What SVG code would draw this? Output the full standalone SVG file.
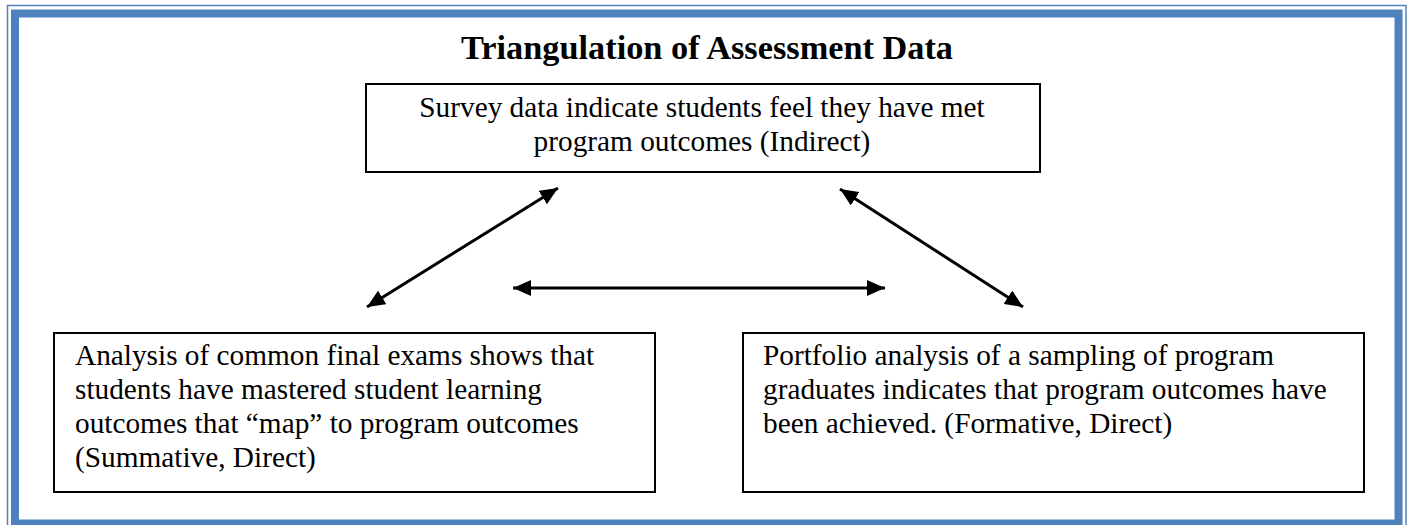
<svg xmlns="http://www.w3.org/2000/svg" width="1410" height="525" viewBox="0 0 1410 525">
  <defs>
    <style>
      .frame { fill: none; stroke: #4F81BD; }
      .box { fill: #ffffff; stroke: #000000; stroke-width: 2; }
      .txt { font-family: "Liberation Serif", "Times New Roman", serif; font-size: 29.3px; fill: #000000; }
      .title { font-family: "Liberation Serif", "Times New Roman", serif; font-size: 33px; font-weight: bold; fill: #000000; }
      .conn { fill: none; stroke: #000000; stroke-width: 3; }
    </style>
    <marker id="arrow" viewBox="0 0 18 16" refX="18" refY="8" markerWidth="18" markerHeight="16" markerUnits="userSpaceOnUse" orient="auto-start-reverse">
      <path d="M0,0 L18,8 L0,16 Z" fill="#000000"/>
    </marker>
  </defs>

  <rect width="1410" height="525" fill="#ffffff"/>

  <g id="frame">
    <rect class="frame" x="7.5" y="5.5" width="1398.5" height="530" stroke-width="1.5"/>
    <rect class="frame" x="15" y="13.5" width="1383.5" height="510" stroke-width="8"/>
  </g>

  <g id="title">
    <text class="title" x="707" y="59" text-anchor="middle" textLength="492" lengthAdjust="spacingAndGlyphs">Triangulation of Assessment Data</text>
  </g>

  <g id="connectors">
    <path class="conn" d="M367,307 L558,188" marker-start="url(#arrow)" marker-end="url(#arrow)"/>
    <path class="conn" d="M513,288 L885,288" marker-start="url(#arrow)" marker-end="url(#arrow)"/>
    <path class="conn" d="M840,189 L1023,307" marker-start="url(#arrow)" marker-end="url(#arrow)"/>
  </g>

  <g id="node-survey">
    <rect class="box" x="366" y="84" width="674" height="88"/>
    <text class="txt" x="702" y="117" text-anchor="middle">Survey data indicate students feel they have met</text>
    <text class="txt" x="702" y="151" text-anchor="middle">program outcomes (Indirect)</text>
  </g>

  <g id="node-exams">
    <rect class="box" x="54" y="333" width="601" height="159"/>
    <text class="txt" x="75" y="365">Analysis of common final exams shows that</text>
    <text class="txt" x="75" y="399">students have mastered student learning</text>
    <text class="txt" x="75" y="433">outcomes that “map” to program outcomes</text>
    <text class="txt" x="75" y="467">(Summative, Direct)</text>
  </g>

  <g id="node-portfolio">
    <rect class="box" x="743" y="333" width="621" height="159"/>
    <text class="txt" x="763" y="365">Portfolio analysis of a sampling of program</text>
    <text class="txt" x="763" y="399">graduates indicates that program outcomes have</text>
    <text class="txt" x="763" y="433">been achieved. (Formative, Direct)</text>
  </g>
</svg>
